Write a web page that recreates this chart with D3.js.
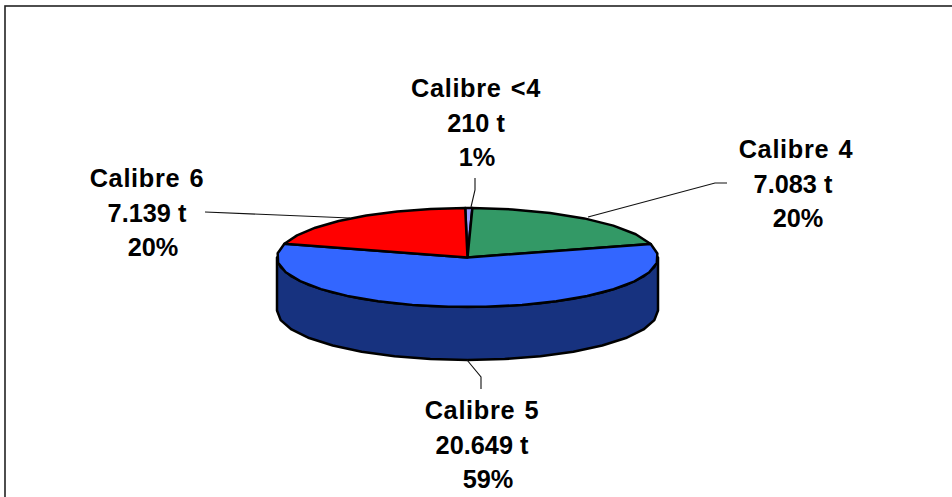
<!DOCTYPE html>
<html>
<head>
<meta charset="utf-8">
<script src="https://cdn.jsdelivr.net/npm/d3@7"></script>
<style>
html, body { margin: 0; padding: 0; background: #fff; overflow: hidden; }
text { font-family: "Liberation Sans", Arial, sans-serif; font-weight: bold; font-size: 25.3px; fill: #000; }
.name { letter-spacing: 0.7px; word-spacing: 1.5px; }
</style>
</head>
<body>
<svg id="chart"></svg>
<script>
const categories = ["Calibre <4", "Calibre 4", "Calibre 5", "Calibre 6"];
const tonnes = [210, 7083, 20649, 7139];
const tonneLabels = ["210 t", "7.083 t", "20.649 t", "7.139 t"];
const percentLabels = ["1%", "20%", "59%", "20%"];
const topColors = ["#9999ff", "#339966", "#3366ff", "#ff0000"];
const sideColor = "#17327f";

const width = 952;
const height = 497;
const cx = 467.5, cy = 257.5, rx = 190.5, ry = 49.5, depth = 53;

const svg = d3.select("#chart").attr("width", width).attr("height", height);

// frame, only top and left edges fall inside the crop
svg.append("rect")
    .attr("x", 5).attr("y", 6)
    .attr("width", 960).attr("height", 510)
    .attr("fill", "#fff").attr("stroke", "#222").attr("stroke-width", 1.6);

const startAngle = -0.012;
const pie = d3.pie().sort(null).startAngle(startAngle).endAngle(startAngle + 2 * Math.PI);
const arcs = pie(tonnes);

// squash the circle into the tilted ellipse
const sx = d3.scaleLinear().domain([-1, 1]).range([cx - rx, cx + rx]);
const sy = d3.scaleLinear().domain([-1, 1]).range([cy - ry, cy + ry]);
const px = a => sx(Math.sin(a));
const py = a => sy(-Math.cos(a));

// angles along an arc, coarse on purpose so the rim looks faceted like the original
function rim(a0, a1) {
    const n = Math.max(1, Math.round((a1 - a0) / (Math.PI / 16)));
    return d3.range(n + 1).map(i => a0 + (a1 - a0) * i / n);
}

const line = d3.line();

// side wall, front half only
const front = rim(Math.PI / 2, 3 * Math.PI / 2);
const wall = front.map(a => [px(a), py(a)])
    .concat(front.slice().reverse().map(a => [px(a), py(a) + depth]));
svg.append("path")
    .attr("d", line(wall) + "Z")
    .attr("fill", sideColor)
    .attr("stroke", "#000").attr("stroke-width", 2.5).attr("stroke-linejoin", "round");

// top slices
svg.selectAll(".slice")
    .data(arcs)
    .enter()
    .append("path")
    .attr("class", "slice")
    .attr("d", d => line([[cx, cy]].concat(rim(d.startAngle, d.endAngle).map(a => [px(a), py(a)]))) + "Z")
    .attr("fill", (d, i) => topColors[i])
    .attr("stroke", "#000").attr("stroke-width", 2.5).attr("stroke-linejoin", "round");

// leader lines
const leaders = [
    [[471, 207], [475, 190], [475, 178]],
    [[588, 217], [715, 183], [727, 183]],
    [[467, 360], [481, 377], [481, 389]],
    [[350, 218], [205, 212]]
];
svg.selectAll(".leader")
    .data(leaders)
    .enter()
    .append("path")
    .attr("class", "leader")
    .attr("d", d => line(d))
    .attr("fill", "none")
    .attr("stroke", "#111").attr("stroke-width", 1.1);

// labels: name, tonnage, share (each line has its own centre, as in the picture)
const labelPos = [
    { xs: [476, 476, 477], y: 97 },
    { xs: [796, 793, 798], y: 158 },
    { xs: [482, 482, 488], y: 419 },
    { xs: [147, 147, 153], y: 187 }
];
categories.forEach((name, i) => {
    [name, tonneLabels[i], percentLabels[i]].forEach((s, j) => {
        svg.append("text")
            .attr("class", j === 0 ? "name" : null)
            .attr("x", labelPos[i].xs[j])
            .attr("y", labelPos[i].y + j * 34.5)
            .attr("text-anchor", "middle")
            .text(s);
    });
});
</script>
</body>
</html>
